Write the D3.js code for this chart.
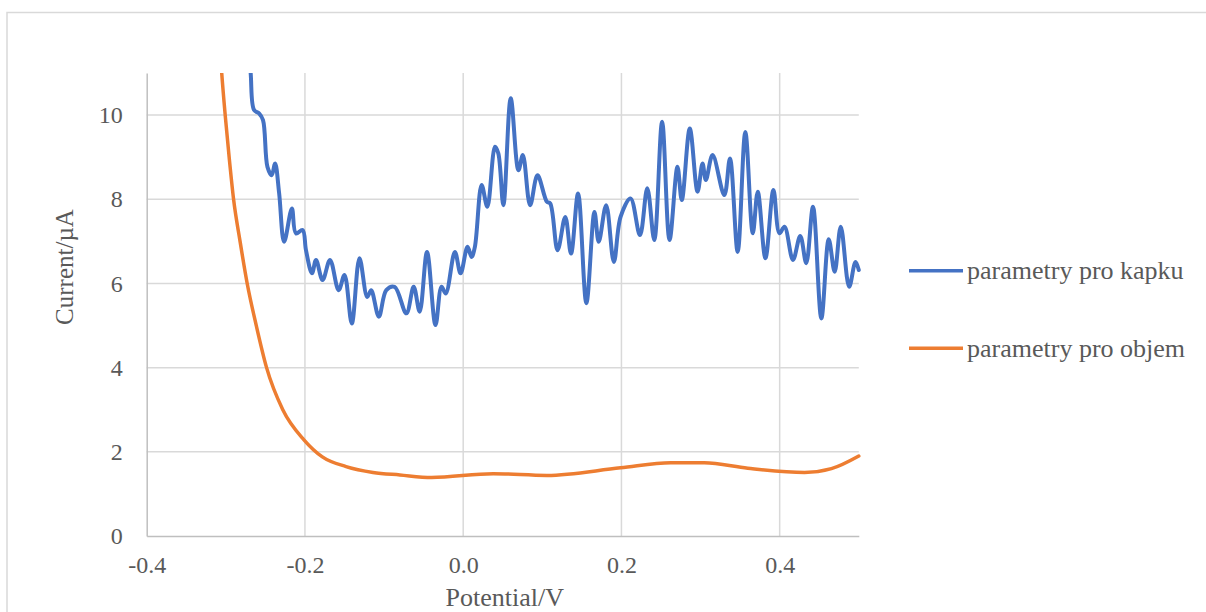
<!DOCTYPE html>
<html>
<head>
<meta charset="utf-8">
<script src="https://cdn.jsdelivr.net/npm/d3@7"></script>
<style>
  html, body { margin: 0; padding: 0; background: #fff; }
  svg { display: block; }
  svg text { font-family: "Liberation Serif", "DejaVu Serif", "Times New Roman", serif !important; fill: #595959; }
</style>
</head>
<body>
<svg id="chart" width="1206" height="612"></svg>
<script>
// ---- data ----
const seriesNames = ["parametry pro kapku", "parametry pro objem"];
const seriesColors = ["#4472C4", "#ED7D31"];

const kapkuX = [-0.273, -0.2686, -0.2643, -0.258, -0.253, -0.2474, -0.242, -0.2377, -0.2326, -0.2263,
  -0.2165, -0.2114, -0.203, -0.1987, -0.1911, -0.186, -0.1777, -0.1683, -0.1574, -0.150,
  -0.1408, -0.1311, -0.1213, -0.1163, -0.1066, -0.0972, -0.0867, -0.0718, -0.0626, -0.055,
  -0.0457, -0.035, -0.0274, -0.022, -0.0105, -0.0033, 0.0055, 0.0106, 0.0148, 0.0233,
  0.0305, 0.0402, 0.0444, 0.0508, 0.0601, 0.0698, 0.0754, 0.0846, 0.0939, 0.1058,
  0.110, 0.1193, 0.129, 0.1363, 0.1452, 0.1557, 0.1659, 0.1713, 0.1807, 0.1904,
  0.1989, 0.2115, 0.2234, 0.2327, 0.2415, 0.2514, 0.2608, 0.2708, 0.2763, 0.2864,
  0.2962, 0.3025, 0.3067, 0.3152, 0.330, 0.3372, 0.3469, 0.3566, 0.366, 0.3723,
  0.382, 0.3921, 0.3997, 0.4061, 0.4168, 0.426, 0.4336, 0.4421, 0.4527, 0.462,
  0.4695, 0.4772, 0.4878, 0.4958, 0.5];
const kapkuY = [12.2, 11.0, 10.12, 10.04, 9.88, 8.77, 8.57, 8.85, 8.14, 6.99,
  7.78, 7.19, 7.27, 6.79, 6.24, 6.56, 6.08, 6.56, 5.84, 6.20,
  5.05, 6.60, 5.68, 5.84, 5.21, 5.84, 5.92, 5.29, 5.92, 5.33,
  6.75, 5.01, 5.92, 5.76, 6.75, 6.24, 6.87, 6.63, 6.87, 8.34,
  7.82, 9.25, 9.09, 7.86, 10.40, 8.69, 9.05, 7.86, 8.57, 7.94,
  7.90, 6.79, 7.58, 6.71, 8.14, 5.53, 7.70, 6.99, 7.86, 6.51,
  7.58, 8.02, 7.15, 8.26, 7.03, 9.84, 7.03, 8.77, 7.98, 9.68,
  8.18, 8.85, 8.46, 9.05, 8.10, 8.97, 6.75, 9.60, 7.19, 8.18,
  6.60, 8.22, 7.19, 7.35, 6.56, 7.13, 6.48, 7.82, 5.17, 7.05,
  6.28, 7.35, 5.92, 6.51, 6.32];

const objemX = [-0.3088, -0.3052, -0.3008, -0.2958, -0.2902, -0.2820, -0.2730, -0.2615, -0.2485, -0.228,
  -0.201, -0.178, -0.148, -0.114, -0.080, -0.040, 0.038, 0.1058, 0.1989, 0.2623,
  0.3046, 0.3597, 0.4315, 0.4654, 0.5];
const objemY = [12.0, 11.0, 10.0, 9.0, 8.0, 7.0, 6.0, 5.0, 4.0, 3.0,
  2.28, 1.88, 1.65, 1.51, 1.45, 1.39, 1.48, 1.44, 1.62, 1.74,
  1.74, 1.61, 1.51, 1.60, 1.90];

const xTicks = [-0.4, -0.2, 0.0, 0.2, 0.4];
const yTicks = [0, 2, 4, 6, 8, 10];
const xDomain = [-0.4, 0.5];
const yDomain = [0, 11];
const xTitle = "Potential/V";
const yTitle = "Current/\u00B5A";

// ---- drawing ----
const svg = d3.select("#chart");
const L = 146.7, R = 858.8, T = 73, B = 536;
const x = d3.scaleLinear().domain(xDomain).range([L, R]);
const y = d3.scaleLinear().domain(yDomain).range([B, T]);

// chart area border
svg.append("rect").attr("x", 7).attr("y", 12.5).attr("width", 1250).attr("height", 700)
  .attr("fill", "none").attr("stroke", "#d9d9d9").attr("stroke-width", 1.5);

// horizontal gridlines
svg.append("g").selectAll("line").data(yTicks.filter(d => d > 0)).join("line")
  .attr("x1", L).attr("x2", R).attr("y1", d => y(d)).attr("y2", d => y(d))
  .attr("stroke", "#d9d9d9").attr("stroke-width", 1.5);
// vertical gridlines
svg.append("g").selectAll("line").data(xTicks.filter(d => d > xDomain[0])).join("line")
  .attr("y1", T).attr("y2", B).attr("x1", d => x(d)).attr("x2", d => x(d))
  .attr("stroke", "#d9d9d9").attr("stroke-width", 1.5);

const fmtX = d => d3.format(".1f")(d).replace("\u2212", "-");

// axes
const gy = svg.append("g").attr("transform", `translate(${L},0)`)
  .call(d3.axisLeft(y).tickValues(yTicks).tickSize(0).tickPadding(24).tickFormat(d3.format("d")));
gy.attr("font-family", null);
gy.select(".domain").attr("stroke", "#bfbfbf").attr("stroke-width", 1.5);
gy.selectAll("text").style("font-size", "24px").attr("fill", "#595959");

const gx = svg.append("g").attr("transform", `translate(0,${B})`)
  .call(d3.axisBottom(x).tickValues(xTicks).tickSize(0).tickPadding(20).tickFormat(fmtX));
gx.attr("font-family", null);
gx.select(".domain").attr("stroke", "#bfbfbf").attr("stroke-width", 1.5);
gx.selectAll("text").style("font-size", "24px").attr("fill", "#595959");

// axis titles
svg.append("text").attr("x", (L + R) / 2 + 2).attr("y", 606).attr("text-anchor", "middle")
  .style("font-size", "26px").text(xTitle);
svg.append("text").attr("transform", "translate(73,267) rotate(-90)").attr("text-anchor", "middle")
  .style("font-size", "25px").text(yTitle);

// clip
svg.append("clipPath").attr("id", "clip").append("rect")
  .attr("x", L).attr("y", T).attr("width", R - L + 3).attr("height", B - T);

const curves = [d3.curveCatmullRom.alpha(0.5), d3.curveMonotoneX];
const series = [d3.zip(kapkuX, kapkuY), d3.zip(objemX, objemY)];
const widths = [4, 3.5];

svg.append("g").attr("clip-path", "url(#clip)").selectAll("path").data(series).join("path")
  .attr("d", (d, i) => d3.line().x(p => x(p[0])).y(p => y(p[1])).curve(curves[i])(d))
  .attr("fill", "none")
  .attr("stroke", (d, i) => seriesColors[i]).attr("stroke-width", (d, i) => widths[i])
  .attr("stroke-linejoin", "round").attr("stroke-linecap", "round");

// legend
const legY = [270.7, 348.3];
const leg = svg.append("g").selectAll("g").data(seriesNames).join("g")
  .attr("transform", (d, i) => `translate(909,${legY[i]})`);
leg.append("line").attr("x1", 0).attr("x2", 54).attr("y1", 0).attr("y2", 0)
  .attr("stroke", (d, i) => seriesColors[i]).attr("stroke-width", 3.5);
leg.append("text").attr("x", 58).attr("dy", "0.32em").style("font-size", "26px").text(d => d);
</script>
</body>
</html>
